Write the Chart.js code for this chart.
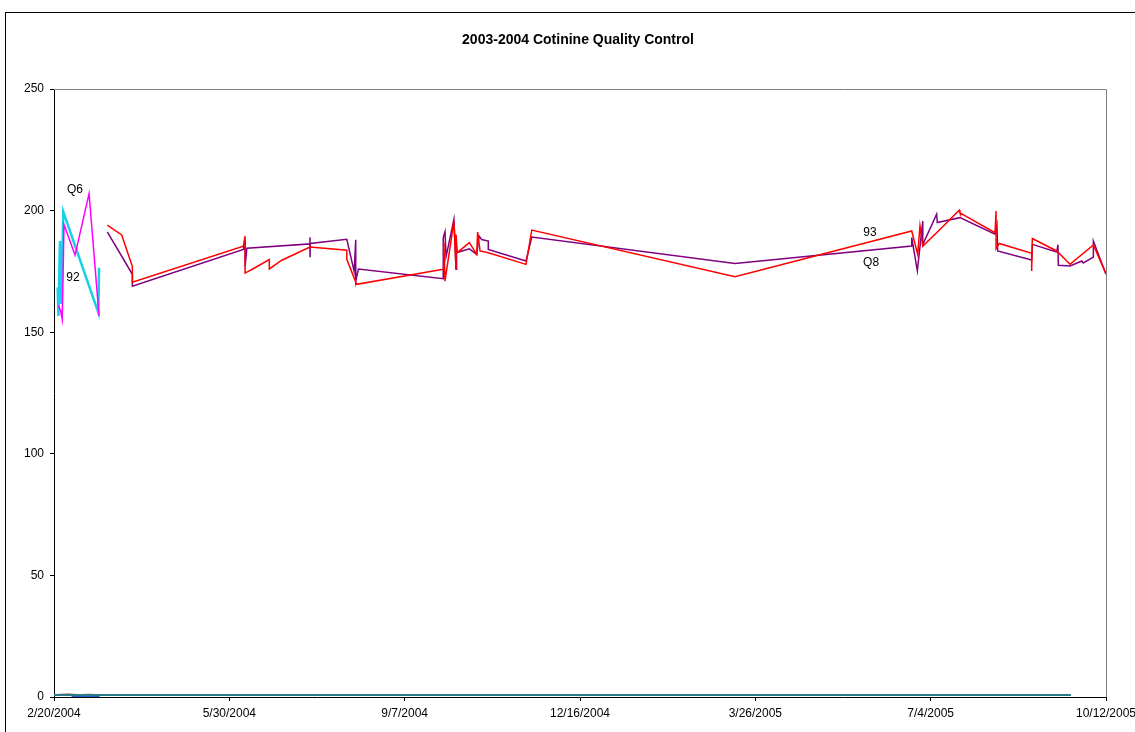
<!DOCTYPE html>
<html>
<head>
<meta charset="utf-8">
<script src="https://cdn.jsdelivr.net/npm/chart.js@4/dist/chart.umd.min.js"></script>
<style>
  html, body { margin: 0; padding: 0; background: #fff; overflow: hidden; }
  #wrap { position: absolute; left: 5px; top: 12px; width: 1146px; height: 740px;
          border-left: 1px solid #000; border-top: 1px solid #000; box-sizing: border-box; }
  #c { position: absolute; left: -1px; top: 0px; }
</style>
</head>
<body>
<div id="wrap"><canvas id="c" width="1146" height="740"></canvas></div>
<script>
// x values are days since 2/20/2004
const chartTitle = '2003-2004 Cotinine Quality Control';
const tickLabels = ['2/20/2004', '5/30/2004', '9/7/2004', '12/16/2004', '3/26/2005', '7/4/2005', '10/12/2005'];

const redDays = [30.4, 38.6, 44.7, 44.7, 108, 109, 109, 114.6, 122.8, 122.8, 129.9, 146, 167, 167, 172.6,
  222, 222.4, 223, 228.1, 229.3, 229.3, 230, 236.9, 241.1, 241.6, 243, 247.7, 269.2, 272.5, 388.4,
  489.2, 492.6, 493.9, 495.5, 503.4, 516.3, 516.7, 536.7, 537.3, 537.3, 539.1, 557.6, 557.6, 558,
  571.9, 579.5, 592.8, 600];
const redValues = [194, 190, 177, 170.6, 185.4, 189.5, 174.3, 176.5, 179.9, 176, 179.6, 185, 183.7, 180, 169.7,
  175.9, 186.8, 171, 195.7, 175.9, 190.2, 182.7, 186.8, 182, 191.2, 183.4, 182.7, 177.9, 192, 172.8,
  191.6, 182, 193.7, 185.4, 190.9, 200.2, 199.1, 190.9, 199.8, 184.4, 186.5, 182.4, 175.2, 188.5,
  183.4, 177.9, 185.9, 174];

const purpleDays = [30.4, 44.7, 44.7, 108, 109, 109, 110, 146, 146, 146, 146.2, 167, 171.2, 172.1, 172.1, 173.6,
  222, 222, 223, 223.6, 228.1, 229.3, 229.6, 236.9, 241.1, 242.4, 243.9, 247.7, 247.7, 269.2, 272.5, 388.4,
  489.2, 489.2, 492.4, 495.5, 495.5, 503.4, 503.8, 516.7, 536.7, 537.8, 538.2, 557.6, 558, 571.9, 572.6, 572.8,
  579.5, 586.2, 587, 592.8, 592.8, 600];
const purpleValues = [191.3, 173.8, 168.9, 184, 188, 177, 184.5, 186.3, 189, 180.8, 186.5, 188.2, 175, 188, 171, 176,
  172, 188.9, 191.3, 181, 196.4, 175.9, 182.7, 184.3, 182, 189.6, 188.1, 187.5, 184, 179.3, 189.1, 178.3,
  185.4, 188.9, 175.2, 195.7, 186, 198.5, 195.1, 197.1, 190.3, 194, 183.4, 179.7, 186.1, 183, 186, 177.5,
  177.2, 179.3, 178.5, 180.9, 187.5, 173.8];

const magentaDays = [2.5, 3.8, 4.7, 5.7, 12, 20, 25.7];
const magentaValues = [161, 158.7, 155.3, 194.3, 181.7, 207, 156.7];

const cyanDays = [2.1, 2.5, 3.4, 4.2, 5.3, 25.3, 25.7];
const cyanValues = [168.4, 156.7, 187.5, 161.6, 199.5, 158, 176.5];

const tealDays = [0, 100, 200, 300, 400, 500, 580];
const tealValues = [0.8, 0.8, 0.8, 0.8, 0.8, 0.8, 0.8];
const darkRedDays = [0, 8, 14, 20, 26];
const darkRedValues = [1.0, 1.2, 1.0, 1.1, 1.0];
const blueDays = [10, 18, 26];
const blueValues = [0.3, 0.3, 0.3];

const pointLabels = ['Q6', '92', '93', 'Q8'];
const labelDays = [12, 10.8, 465.4, 466];
const labelValues = [208.5, 172.3, 191, 178.6];

const FONT = '"Liberation Sans", Arial, sans-serif';

function pts(xs, ys) { return xs.map((x, i) => ({x: x, y: ys[i]})); }

function line(label, xs, ys, color, width) {
  return {label: label, data: pts(xs, ys), borderColor: color, backgroundColor: color,
    borderWidth: width, pointRadius: 0, tension: 0, fill: false};
}

const frame = {
  id: 'frame',
  beforeDatasetsDraw(chart) {
    const a = chart.chartArea, ctx = chart.ctx;
    ctx.save();
    ctx.strokeStyle = '#808080';
    ctx.lineWidth = 1;
    ctx.beginPath();
    ctx.moveTo(a.left, a.top + 0.5);
    ctx.lineTo(a.right + 0.5, a.top + 0.5);
    ctx.lineTo(a.right + 0.5, a.bottom);
    ctx.stroke();
    // title, centred on the whole chart box
    ctx.fillStyle = '#000';
    ctx.font = 'bold 14px ' + FONT;
    ctx.textAlign = 'center';
    ctx.textBaseline = 'middle';
    ctx.fillText(chartTitle, chart.width / 2, 27);
    ctx.restore();
  },
  afterDatasetsDraw(chart) {
    const ctx = chart.ctx, xs = chart.scales.x, ys = chart.scales.y;
    ctx.save();
    ctx.fillStyle = '#000';
    ctx.font = '12px ' + FONT;
    ctx.textAlign = 'center';
    ctx.textBaseline = 'middle';
    pointLabels.forEach((t, i) => {
      ctx.fillText(t, xs.getPixelForValue(labelDays[i]), ys.getPixelForValue(labelValues[i]));
    });
    ctx.restore();
  }
};

new Chart(document.getElementById('c'), {
  type: 'line',
  data: {
    datasets: [
      line('teal', tealDays, tealValues, '#2a7a88', 2),
      line('darkred', darkRedDays, darkRedValues, '#8b0000', 1),
      line('blue', blueDays, blueValues, '#1f5fd0', 1.5),
      line('Q6', magentaDays, magentaValues, '#ff00ff', 1.5),
      line('92', cyanDays, cyanValues, '#18d0e8', 2.5),
      line('93', redDays, redValues, '#ff0000', 1.5),
      line('Q8', purpleDays, purpleValues, '#800080', 1.5)
    ]
  },
  options: {
    responsive: false,
    animation: false,
    layout: {padding: {left: 0, right: 45, top: 76, bottom: 26}},
    plugins: {
      legend: {display: false},
      tooltip: {enabled: false},
      title: {display: false}
    },
    scales: {
      x: {
        type: 'linear',
        min: 0,
        max: 600,
        afterFit(s) { s.height = 30; },
        afterBuildTicks(s) { s.ticks = tickLabels.map((t, i) => ({value: i * 100})); },
        ticks: {
          color: '#000',
          maxRotation: 0,
          autoSkip: false,
          padding: 5,
          font: {family: FONT, size: 12},
          callback: (v) => tickLabels[Math.round(v / 100)]
        },
        grid: {display: true, drawOnChartArea: false, color: '#000', tickLength: 4},
        border: {color: '#000', width: 1}
      },
      y: {
        min: 0,
        max: 250,
        afterFit(s) { s.width = 49; },
        ticks: {
          stepSize: 50,
          color: '#000',
          padding: 6,
          font: {family: FONT, size: 12}
        },
        grid: {display: true, drawOnChartArea: false, color: '#000', tickLength: 4},
        border: {color: '#000', width: 1}
      }
    }
  },
  plugins: [frame]
});
</script>
</body>
</html>
